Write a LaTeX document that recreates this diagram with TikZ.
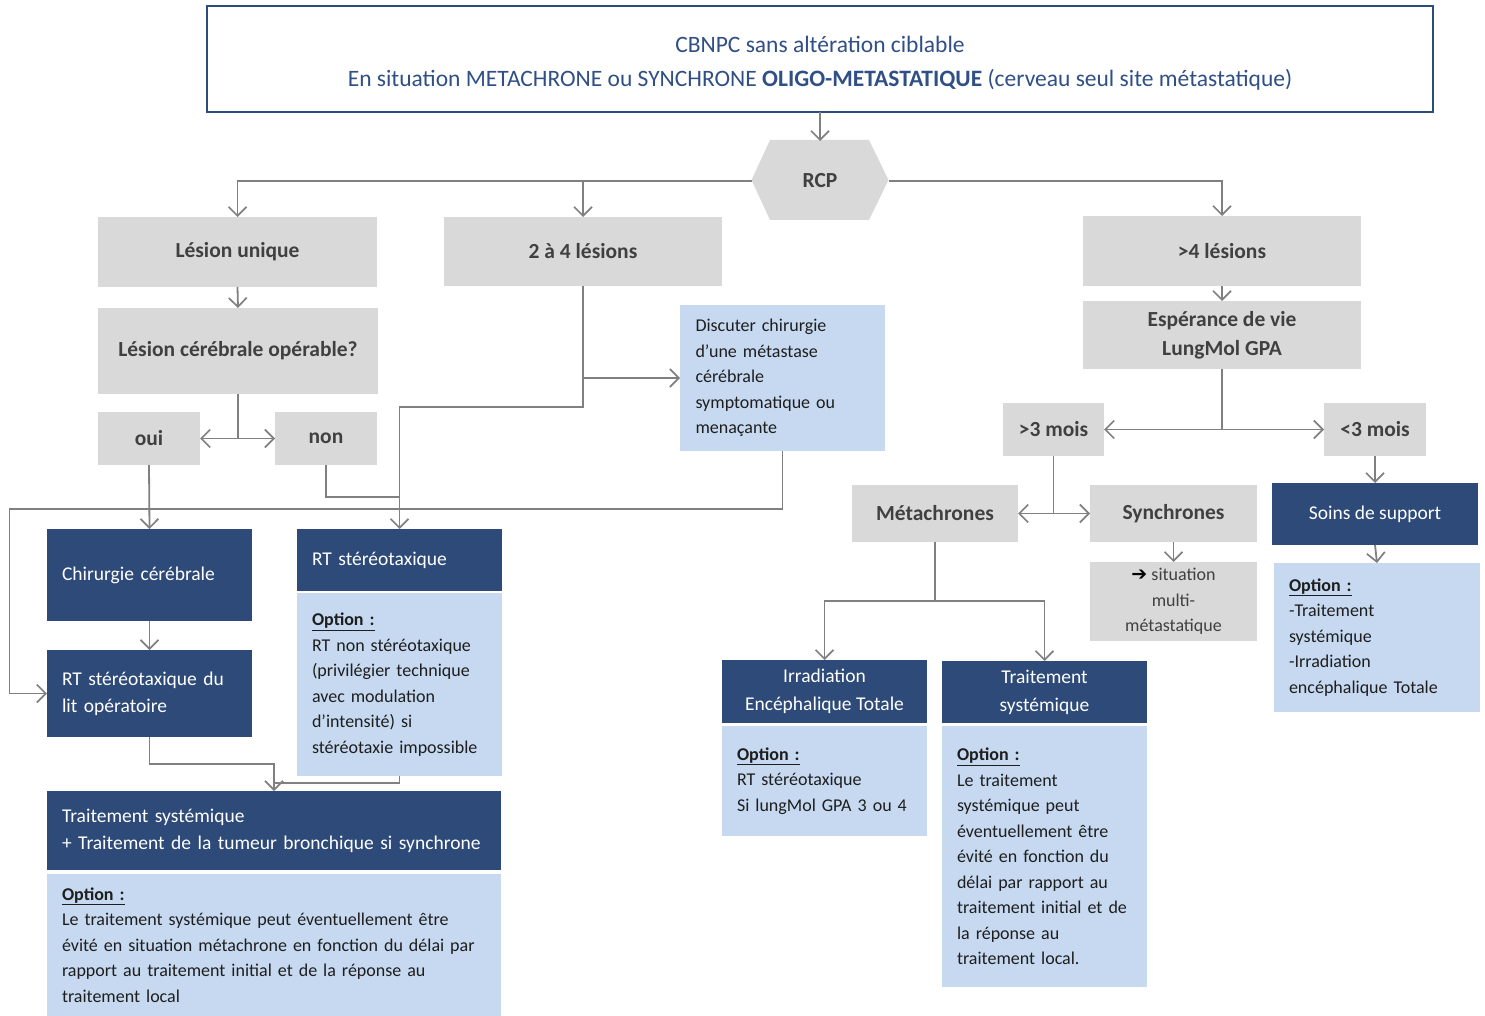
\documentclass[tikz,border=0pt]{standalone}
\usepackage{fontspec}
\setmainfont{Carlito}
\newfontfamily\symfnt{DejaVu Sans}
\usetikzlibrary{arrows.meta}
\definecolor{lgray}{HTML}{D9D9D9}
\definecolor{dgray}{HTML}{404040}
\definecolor{dblue}{HTML}{2D4A78}
\definecolor{lblue}{HTML}{C6D9F0}
\definecolor{cgray}{HTML}{808080}
\definecolor{tblue}{HTML}{2F4F85}
\definecolor{bblue}{HTML}{2F4B7C}
\definecolor{otext}{HTML}{1E1E1E}
\begin{document}
\begin{tikzpicture}[x=1pt,y=-1pt,
 base/.style={inner sep=0pt, outer sep=0pt},
 gbox/.style={base, fill=lgray, text=dgray, font=\fontsize{21.5}{29}\selectfont\bfseries, align=center},
 dboxc/.style={base, fill=dblue, text=white, font=\fontsize{19.5}{28}\selectfont, align=center},
 dboxl/.style={base, fill=dblue, text=white, font=\fontsize{19.5}{27}\selectfont, align=left, inner xsep=15pt},
 obox/.style={base, fill=lblue, text=otext, font=\fontsize{18}{25.5}\selectfont, align=left, inner xsep=15pt},
 conn/.style={draw=cgray, line width=1.8pt},
 arr/.style={conn, -{Straight Barb[length=9pt,width=18pt,line width=1.7pt]}},
 ]
\useasboundingbox (0,0) rectangle (1485,1016);

% top box
\node[base, draw=bblue, line width=2pt, minimum width=1226pt, minimum height=106pt, text=tblue,
  font=\fontsize{23.5}{34}\selectfont, align=center] (top) at (820,59)
  {\rule{0pt}{24pt}CBNPC sans altération ciblable\\En situation METACHRONE ou SYNCHRONE \textbf{OLIGO-METASTATIQUE} (cerveau seul site métastatique)};

% RCP hexagon
\fill[lgray] (770,140) -- (869,140) -- (888.5,180) -- (869,220) -- (770,220) -- (751.5,180) -- cycle;
\node[base, minimum width=137pt, minimum height=80pt, text=dgray, font=\fontsize{21.5}{29}\selectfont\bfseries] (rcp) at (820,181) {RCP};

% gray boxes
\node[gbox, minimum width=279pt, minimum height=70pt] (lu) at (237.5,252) {Lésion unique};
\node[gbox, minimum width=278pt, minimum height=69pt] (l24) at (583,251.5) {2 à 4 lésions};
\node[gbox, minimum width=278pt, minimum height=70pt] (l4) at (1222,251) {>4 lésions};
\node[gbox, minimum width=280pt, minimum height=86pt] (lco) at (238,351) {Lésion cérébrale opérable?};
\node[gbox, minimum width=102pt, minimum height=53pt] (oui) at (149,438.5) {oui};
\node[gbox, minimum width=102pt, minimum height=53pt] (non) at (326,438.5) {non};
\node[gbox, minimum width=278pt, minimum height=68pt] (esp) at (1222,335) {Espérance de vie\\LungMol GPA};
\node[gbox, minimum width=101pt, minimum height=53pt] (m3) at (1053.5,429.5) {>3 mois};
\node[gbox, minimum width=102pt, minimum height=53pt] (l3) at (1375,429.5) {<3 mois};
\node[gbox, minimum width=166pt, minimum height=57pt] (meta) at (935,513.5) {Métachrones};
\node[gbox, minimum width=167pt, minimum height=57pt] (sync) at (1173.5,513.5) {Synchrones};
\node[base, fill=lgray, text=dgray, font=\fontsize{18}{25.5}\selectfont, align=center,
  minimum width=167pt, minimum height=79pt] (situ) at (1173.5,601.5)
  {{\symfnt\fontsize{19}{25.5}\selectfont\color{black}➔} situation\\multi-\\métastatique};

% discuter
\node[obox, text width=174pt, inner xsep=15.5pt, minimum height=146pt] (disc) at (782.5,378)
  {Discuter chirurgie\\d’une métastase\\cérébrale\\symptomatique ou\\menaçante};

% dark boxes
\node[dboxl, text width=175pt, minimum height=92pt] (chir) at (149.5,575) {Chirurgie cérébrale};
\node[dboxl, text width=175pt, minimum height=87pt] (rtl) at (149.5,693.5) {RT stéréotaxique du\\lit opératoire};
\node[dboxl, text width=175pt, minimum height=62pt] (rts) at (399.5,560) {RT stéréotaxique};
\node[dboxl, text width=424pt, minimum height=79pt] (ts) at (274,830.5) {Traitement systémique\\\mbox{+ Traitement de la tumeur bronchique si synchrone}};
\node[dboxc, minimum width=205pt, minimum height=63pt] (iet) at (824.5,691.5) {Irradiation\\Encéphalique Totale};
\node[dboxc, minimum width=205pt, minimum height=62pt] (tsr) at (1044.5,692) {Traitement\\systémique};
\node[dboxc, minimum width=206pt, minimum height=62pt] (soins) at (1375,514) {Soins de support};

% option boxes
\node[obox, text width=175pt, minimum height=183pt] (rtsopt) at (399.5,684.5)
  {\underline{\textbf{Option :}}\\RT non stéréotaxique\\(privilégier technique\\avec modulation\\d’intensité) si\\\mbox{stéréotaxie impossible}};
\node[obox, text width=424pt, minimum height=142pt] (tsopt) at (274,945)
  {\underline{\textbf{Option :}}\\Le traitement systémique peut éventuellement être\\\mbox{évité en situation métachrone en fonction du délai par}\\rapport au traitement initial et de la réponse au\\traitement local};
\node[obox, text width=175pt, minimum height=110pt] (ietopt) at (824.5,781)
  {\underline{\textbf{Option :}}\\RT stéréotaxique\\Si lungMol GPA 3 ou 4};
\node[obox, text width=175pt, minimum height=261pt] (tsropt) at (1044.5,856.5)
  {\underline{\textbf{Option :}}\\Le traitement\\systémique peut\\éventuellement être\\évité en fonction du\\délai par rapport au\\\mbox{traitement initial et de}\\la réponse au\\traitement local.};
\node[obox, text width=176pt, minimum height=149pt] (soinsopt) at (1377,637.5)
  {\underline{\textbf{Option :}}\\-Traitement\\systémique\\-Irradiation\\encéphalique Totale};

% connectors
\draw[arr] (top.south) -- (rcp.north);
\draw[arr] (rcp.west) -| (lu.north);
\draw[arr] (rcp.west) -| (l24.north);
\draw[arr] (rcp.east) -| (l4.north);
\draw[arr] (lu.south) -- (lco.north);
\draw[conn] (lco.south) -- (lco.south |- oui.east);
\draw[arr] (lco.south |- oui.east) -- (oui.east);
\draw[arr] (lco.south |- oui.east) -- (non.west);
\draw[conn] (l24.south) -- (l24.south |- disc.west);
\draw[arr] (l24.south |- disc.west) -- (disc.west);
\draw[arr] (l24.south) -- ++(0,121) -| (rts.north);
\draw[conn] (non.south) -- ++(0,32) -- ++(74,0);
\draw[arr] (disc.south) -- ++(0,58) -- ++(-773,0) |- (rtl.west);
\draw[arr] (oui.south) -- (chir.north);
\draw[arr] (chir.south) -- (rtl.north);
\draw[arr] (rtl.south) -- ++(0,27) -| (ts.north);
\draw[conn] (rtsopt.south) -- ++(0,7) -- ++(-125.5,0);

\draw[arr] (l4.south) -- (esp.north);
\draw[conn] (esp.south) -- (esp.south |- m3.east);
\draw[arr] (esp.south |- m3.east) -- (m3.east);
\draw[arr] (esp.south |- m3.east) -- (l3.west);
\draw[conn] (m3.south) -- (m3.south |- meta.east);
\draw[arr] (m3.south |- meta.east) -- (meta.east);
\draw[arr] (m3.south |- meta.east) -- (sync.west);
\draw[arr] (sync.south) -- (situ.north);
\draw[arr] (meta.south) -- ++(0,59) -| (iet.north);
\draw[arr] (meta.south) -- ++(0,59) -| (tsr.north);
\draw[arr] (l3.south) -- (soins.north);
\draw[arr] (soins.south) -- (soinsopt.north);
\end{tikzpicture}
\end{document}
